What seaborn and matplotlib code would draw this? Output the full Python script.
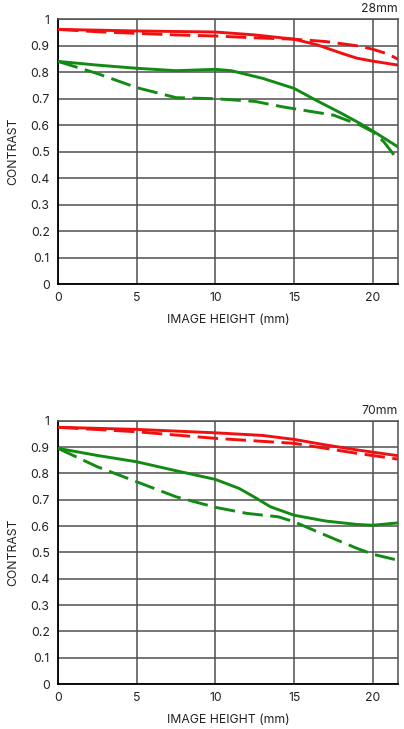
import numpy as np
import pandas as pd
import matplotlib
matplotlib.use("Agg")
import matplotlib.pyplot as plt
import seaborn as sns

# 28mm
w_x_sag = [0, 2.5, 5, 7.5, 10, 12.5, 15, 16.5, 18, 19, 20, 21.6]
w_sag = [0.962, 0.959, 0.956, 0.954, 0.952, 0.941, 0.925, 0.903, 0.872, 0.853, 0.842, 0.827]
w_x_mer = [0, 2.5, 5, 7.5, 10, 12.5, 15, 17, 19, 20, 21, 21.6]
w_mer = [0.962, 0.953, 0.947, 0.941, 0.937, 0.930, 0.925, 0.916, 0.900, 0.887, 0.868, 0.849]
w_x_gs = [0, 2.5, 5, 7.5, 10, 11, 13, 15, 16.4, 18, 19.2, 20, 21.6]
w_gs = [0.841, 0.827, 0.815, 0.806, 0.811, 0.806, 0.777, 0.739, 0.694, 0.645, 0.606, 0.578, 0.518]
w_x_gm = [0, 2.5, 5, 7.5, 10, 12.5, 14.3, 17.5, 19.2, 20, 20.7, 21.6]
w_gm = [0.841, 0.795, 0.742, 0.704, 0.700, 0.690, 0.669, 0.638, 0.600, 0.575, 0.537, 0.468]

# 70mm
t_x_sag = [0, 5, 10, 13, 15, 17, 19, 21.6]
t_sag = [0.975, 0.967, 0.954, 0.944, 0.929, 0.908, 0.889, 0.867]
t_x_mer = [0, 5, 10, 15, 17, 19, 21.6]
t_mer = [0.975, 0.958, 0.933, 0.914, 0.895, 0.876, 0.854]
t_x_gs = [0, 2.5, 5, 7.5, 10, 11.5, 12.5, 13.5, 15, 17, 19, 20, 21.6]
t_gs = [0.895, 0.868, 0.844, 0.810, 0.777, 0.743, 0.709, 0.673, 0.641, 0.619, 0.606, 0.603, 0.612]
t_x_gm = [0, 2.5, 5, 7.5, 10, 12, 14, 15, 17, 19, 20, 21.6]
t_gm = [0.895, 0.825, 0.768, 0.711, 0.671, 0.648, 0.635, 0.616, 0.565, 0.515, 0.493, 0.470]

x_ticks = [0, 5, 10, 15, 20]
y_ticks = [0, 0.1, 0.2, 0.3, 0.4, 0.5, 0.6, 0.7, 0.8, 0.9, 1]
y_labels = ["0", "0.1", "0.2", "0.3", "0.4", "0.5", "0.6", "0.7", "0.8", "0.9", "1"]

sns.set_style("white")
plt.rcParams["font.family"] = ["Inter", "DejaVu Sans"]

RED = "#f01010"
GREEN = "#138a13"
TXT = "#222222"

fig = plt.figure(figsize=(4.04, 7.29), dpi=100)
ax1 = fig.add_axes([0.1436, 0.6104, 0.8416, 0.3631])
ax2 = fig.add_axes([0.1436, 0.0617, 0.8416, 0.3612])


def draw(ax, series, title):
    for xs, ys, col, dashed in series:
        df = pd.DataFrame({"x": xs, "y": ys})
        sns.lineplot(data=df, x="x", y="y", ax=ax, color=col, lw=2.1,
                     linestyle="--" if dashed else "-", zorder=3,
                     estimator=None, sort=False)
        if dashed:
            ax.lines[-1].set_dashes((7, 2.6))
    ax.set_xlim(0, 21.6)
    ax.set_ylim(0, 1)
    ax.set_xticks(x_ticks)
    ax.set_yticks(y_ticks)
    ax.set_yticklabels(y_labels)
    ax.grid(True, color="#505050", lw=1.1)
    ax.tick_params(length=0, labelsize=8.8, colors=TXT, pad=6)
    ax.set_xlabel("IMAGE HEIGHT (mm)", fontsize=8.8, color=TXT, labelpad=7)
    ax.set_ylabel("CONTRAST", fontsize=8.8, color=TXT, labelpad=8)
    for s in ["left", "bottom"]:
        ax.spines[s].set_color("black")
        ax.spines[s].set_linewidth(1.3)
    for s in ["top", "right"]:
        ax.spines[s].set_color("#505050")
        ax.spines[s].set_linewidth(1.1)
    ax.set_title(title, loc="right", fontsize=8.8, color=TXT, pad=5)


draw(ax1, [(w_x_sag, w_sag, RED, False), (w_x_mer, w_mer, RED, True),
           (w_x_gs, w_gs, GREEN, False), (w_x_gm, w_gm, GREEN, True)], "28mm")
draw(ax2, [(t_x_sag, t_sag, RED, False), (t_x_mer, t_mer, RED, True),
           (t_x_gs, t_gs, GREEN, False), (t_x_gm, t_gm, GREEN, True)], "70mm")

fig.savefig("out.png", dpi=100, facecolor="white")
